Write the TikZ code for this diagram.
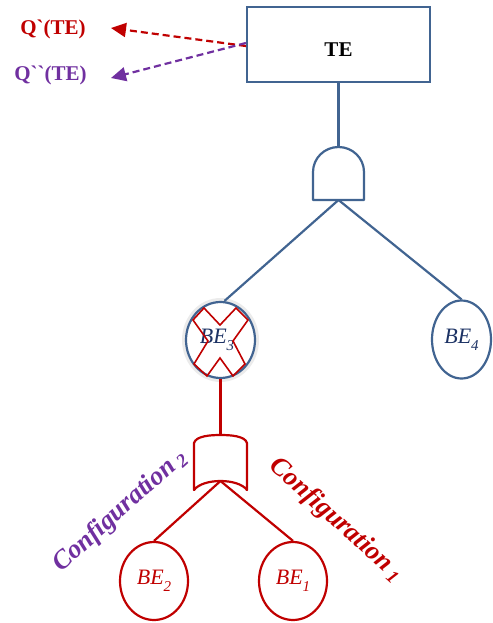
\documentclass[tikz,border=0pt]{standalone}
\usepackage{fontspec}
\setmainfont{Liberation Serif}
\usetikzlibrary{shapes.geometric,arrows.meta}

\definecolor{treeblue}{RGB}{65,100,145}
\definecolor{navytext}{RGB}{28,50,100}
\definecolor{cfgred}{RGB}{192,0,0}
\definecolor{cfgpurple}{RGB}{112,48,160}

% lowered index digit used in the event names
\newcommand\evidx[1]{\raisebox{-0.33em}{\fontsize{15}{15}\selectfont\itshape #1}}

\begin{document}
\begin{tikzpicture}[x=1pt,y=-1pt,
  bluewire/.style={draw=treeblue,line width=2.2pt},
  redwire/.style={draw=cfgred,line width=2.2pt},
  event/.style={ellipse,inner sep=0pt,line width=2.2pt,
    font=\fontsize{22}{22}\selectfont\itshape},
  qlabel/.style={font=\bfseries\fontsize{21}{21}\selectfont,inner sep=0pt},
  cfglabel/.style={font=\bfseries\itshape\fontsize{26.5}{26.5}\selectfont,inner sep=0pt},
  qarrow/.style={line width=2.2pt,dash pattern=on 7pt off 4pt,
    -{Triangle[length=15pt,width=14pt]}},
]
\useasboundingbox (0,0) rectangle (492,623);

% top event
\node[draw=treeblue,line width=2.2pt,minimum width=183pt,minimum height=75pt,inner sep=0pt]
  (te) at (338.5,44.5) {};
\node[font=\bfseries\fontsize{21}{21}\selectfont,inner sep=0pt] (telabel) at (338.5,50) {TE};

% quantities derived from the top event
\node[qlabel,text=cfgred] (q1) at (53,29) {Q\textasciigrave(TE)};
\node[qlabel,text=cfgpurple] (q2) at (50.5,75) {Q\textasciigrave\textasciigrave(TE)};
\coordinate (q1tip) at (111,28);
\coordinate (q2tip) at (111,78);
\draw[qarrow,cfgred] ([yshift=-1.5pt]te.west) -- (q1tip);
\draw[qarrow,cfgpurple] ([yshift=1.5pt]te.west) -- (q2tip);

% AND gate
\coordinate (andtop) at (338.5,147);
\coordinate (andout) at (338.5,200);
\draw[bluewire,fill=white,line join=round]
  (313,200) -- (313,172) .. controls (313,158.2) and (324.4,147) .. (andtop)
  .. controls (352.6,147) and (364,158.2) .. (364,172) -- (364,200) -- cycle;
\draw[bluewire] (te.south) -- (andtop);

% basic events under the AND gate
\node[ellipse,draw=black!8,line width=3pt,minimum width=74pt,minimum height=81pt]
  (be3halo) at (220.5,340) {};
\node[event,draw=treeblue,fill=white,minimum width=69pt,minimum height=76pt,text=navytext]
  (be3) at (220.5,340) {};
\node[event,draw=treeblue,minimum width=59pt,minimum height=78pt,text=navytext]
  (be4) at (461.5,339.5) {BE\evidx{4}};
\draw[bluewire] (andout) -- ([xshift=4pt]be3.north);
\draw[bluewire] (andout) -- (be4.north);

% BE3 label and the cross that removes it
\node[font=\fontsize{22}{22}\selectfont\itshape,text=navytext,inner sep=0pt]
  (be3label) at (217,340) {BE\evidx{3}};
\draw[draw=cfgred,line width=1.6pt,line join=miter]
  (220,325) -- (236,308) -- (248,320) -- (233,341) -- (245,364) -- (233,376)
  -- (220,358) -- (207,376) -- (194,364) -- (208,341) -- (193,320) -- (204,308) -- cycle;

% OR gate refining BE3
\coordinate (ortop) at (220.5,435);
\coordinate (orout) at (220.5,481);
\draw[redwire,line join=round]
  (194,490) -- (194,443) .. controls (196,436) and (210,435) .. (ortop)
  .. controls (231,435) and (245,436) .. (247,443) -- (247,490)
  .. controls (238,478) and (203,478) .. (194,490) -- cycle;
\draw[redwire] (be3.south) -- (ortop);

% configurations
\node[event,draw=cfgred,minimum width=68pt,minimum height=78pt,text=cfgred]
  (be2) at (154,581) {BE\evidx{2}};
\node[event,draw=cfgred,minimum width=68pt,minimum height=78pt,text=cfgred]
  (be1) at (293,581) {BE\evidx{1}};
\draw[redwire] (orout) -- (be2.north);
\draw[redwire] (orout) -- (be1.north);

\node[cfglabel,text=cfgpurple,rotate=42] (cfg2) at (120,511)
  {Configuration\,\textsubscript{2}};
\node[cfglabel,text=cfgred,rotate=-42] (cfg1) at (336,520)
  {Configuration\,\textsubscript{1}};
\end{tikzpicture}
\end{document}
